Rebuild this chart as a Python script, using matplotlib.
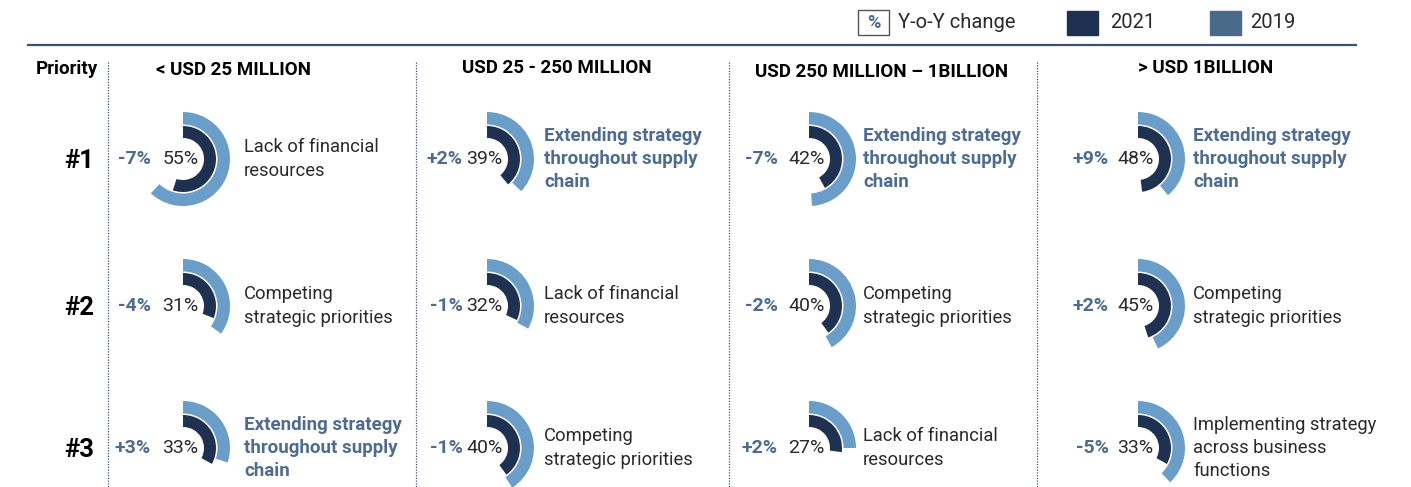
import matplotlib.pyplot as plt
from matplotlib.patches import Wedge, Rectangle

# data
segments = ["< USD 25 MILLION", "USD 25 - 250 MILLION", "USD 250 MILLION \u2013 1BILLION", "> USD 1BILLION"]
priorities = ["#1", "#2", "#3"]

# 2021 share per segment (rows = priority #1..#3)
share_2021 = [
    [55, 31, 33],
    [39, 32, 40],
    [42, 40, 27],
    [48, 45, 33],
]
# year-on-year change (points)
yoy_change = [
    [-7, -4, 3],
    [2, -1, -1],
    [-7, -2, 2],
    [9, 2, -5],
]
labels = [
    ["Lack of financial\nresources", "Competing\nstrategic priorities", "Extending strategy\nthroughout supply\nchain"],
    ["Extending strategy\nthroughout supply\nchain", "Lack of financial\nresources", "Competing\nstrategic priorities"],
    ["Extending strategy\nthroughout supply\nchain", "Competing\nstrategic priorities", "Lack of financial\nresources"],
    ["Extending strategy\nthroughout supply\nchain", "Competing\nstrategic priorities", "Implementing strategy\nacross business\nfunctions"],
]
highlight = "Extending strategy\nthroughout supply\nchain"

# style
NAVY = "#1f3150"
LIGHT = "#6a9ec9"
SLATE = "#4f6c8e"
LEG2019 = "#4a6a8a"
TXT = "#2a2a2a"
plt.rcParams["font.family"] = ["Roboto", "DejaVu Sans"]

fig = plt.figure(figsize=(14.11, 4.87), dpi=100)
ax = fig.add_axes([0, 0, 1, 1])
ax.set_xlim(0, 1411)
ax.set_ylim(487, 0)
ax.axis("off")

col_x = [183, 487, 809, 1138]
row_y = [159, 306, 448]
sep_x = [108, 416, 729, 1037]
chg_off = [32, 24, 31, 29]
lab_off = [61, 57, 54, 55]

# top rule + legend
ax.plot([28, 1356], [45, 45], color="#3e5372", lw=1.6)
ax.add_patch(Rectangle((858, 10), 31, 25, fill=False, ec="#555555", lw=1))
ax.text(873.5, 22.5, "%", color=SLATE, fontsize=13, fontweight="bold", ha="center", va="center")
ax.text(898, 23, "Y-o-Y change", color=TXT, fontsize=14.5, va="center")
ax.add_patch(Rectangle((1067, 11), 31, 24, color=NAVY))
ax.text(1110, 23, "2021", color=TXT, fontsize=14.5, va="center")
ax.add_patch(Rectangle((1210, 11), 31, 24, color=LEG2019))
ax.text(1250, 23, "2019", color=TXT, fontsize=14.5, va="center")

# headers
ax.text(98, 69, "Priority", fontsize=13.5, fontweight="bold", ha="right", va="center", color="black")
head_x = [234, 557, 882, 1206]
head_y = [70, 68, 72, 68]
for i, seg in enumerate(segments):
    ax.text(head_x[i], head_y[i], seg, fontsize=13.5, fontweight="bold", ha="center", va="center", color="black")

for x in sep_x:
    ax.plot([x, x], [62, 487], color="#3e5372", lw=0.9, ls=(0, (1, 1.2)))

for j, p in enumerate(priorities):
    ax.text(94, row_y[j] + 2, p, fontsize=18.5, fontweight="bold", ha="right", va="center", color="black")

# arcs
for i in range(4):
    for j in range(3):
        cx, cy = col_x[i], row_y[j]
        v21 = share_2021[i][j]
        v19 = v21 - yoy_change[i][j]
        ax.add_patch(Wedge((cx, cy), 47, 270, 270 + 3.6 * v19, width=12.5, color=LIGHT, lw=0))
        ax.add_patch(Wedge((cx, cy), 33, 270, 270 + 3.6 * v21, width=12, color=NAVY, lw=0))
        ax.text(cx - 2.5, cy, f"{v21}%", fontsize=14, ha="center", va="center", color=TXT)
        ch = yoy_change[i][j]
        ax.text(cx - chg_off[i], cy, f"{ch:+d}%", fontsize=14, fontweight="bold", ha="right", va="center", color=SLATE)
        lab = labels[i][j]
        hl = lab == highlight
        ax.text(cx + lab_off[i], cy, lab, fontsize=13.5 if hl else 13.2, ha="left", va="center", linespacing=1.38,
                fontweight="bold" if hl else "normal", color=SLATE if hl else TXT)

fig.savefig("out.png", dpi=100)
